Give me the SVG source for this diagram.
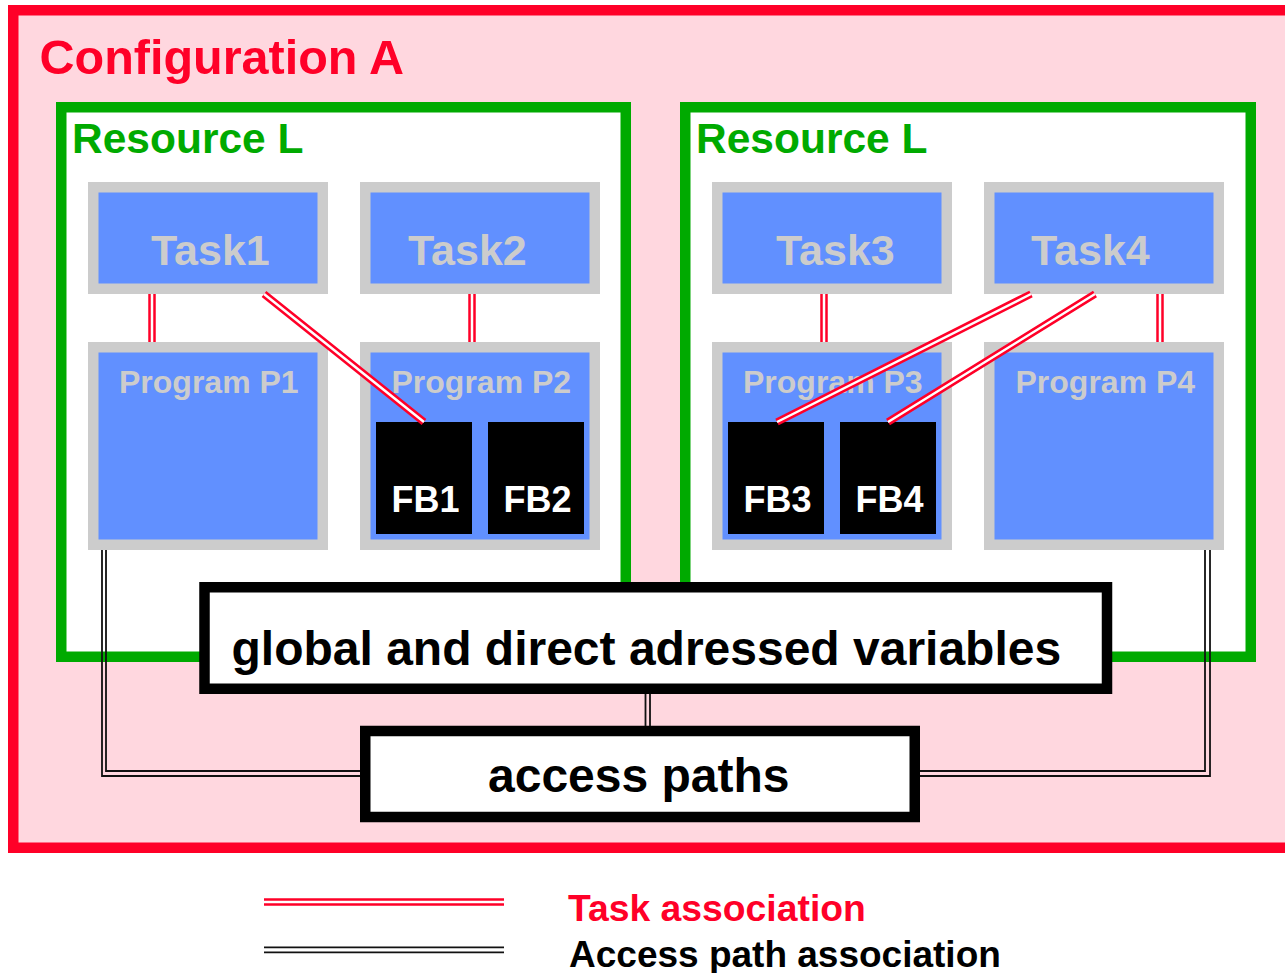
<svg xmlns="http://www.w3.org/2000/svg" width="1285" height="973" viewBox="0 0 1285 973">
  <style>
    text { font-family: "Liberation Sans", Arial, sans-serif; font-weight: bold; }
    .config { fill: #FFD7DF; stroke: #FF0028; stroke-width: 10.5; }
    .resource { fill: #FFFFFF; stroke: #00AA00; stroke-width: 10.5; }
    .unit { fill: #6190FF; stroke: #CCCCCC; stroke-width: 10.5; }
    .fb { fill: #000000; }
    .store { fill: #FFFFFF; stroke: #000000; stroke-width: 10.5; }
    .t-config { fill: #FF0028; font-size: 48.5px; }
    .t-res { fill: #00AA00; font-size: 42.5px; }
    .t-task { fill: #CCCCCC; font-size: 43px; }
    .t-prog { fill: #CCCCCC; font-size: 32px; }
    .t-fb { fill: #FFFFFF; font-size: 36px; }
    .t-store { fill: #000000; font-size: 48px; }
    .t-legend-task { fill: #FF0028; font-size: 37.3px; }
    .t-legend-access { fill: #000000; font-size: 37px; }
    .assoc-outer { fill: none; stroke: #FF0028; stroke-width: 7.5; }
    .assoc-inner { fill: none; stroke: #FFFFFF; stroke-width: 2.5; }
    .path-line { fill: none; stroke: #111111; stroke-width: 1.8; }
  </style>

  <!-- Configuration frame -->
  <g id="configuration-a">
    <rect class="config" x="13.25" y="10.25" width="1290" height="837.5"/>
    <text class="t-config" x="39.5" y="74">Configuration A</text>
  </g>

  <!-- Resources -->
  <g id="resource-left">
    <rect class="resource" x="61.25" y="107.25" width="564.5" height="549.5"/>
    <text class="t-res" x="72" y="153">Resource L</text>
  </g>
  <g id="resource-right">
    <rect class="resource" x="685.25" y="107.25" width="565.5" height="549.5"/>
    <text class="t-res" x="696" y="153">Resource L</text>
  </g>

  <!-- Tasks -->
  <g id="task1">
    <rect class="unit" x="93.25" y="187.25" width="229.5" height="101.5"/>
    <text class="t-task" x="151" y="265">Task1</text>
  </g>
  <g id="task2">
    <rect class="unit" x="365.25" y="187.25" width="229.5" height="101.5"/>
    <text class="t-task" x="408" y="265">Task2</text>
  </g>
  <g id="task3">
    <rect class="unit" x="717.25" y="187.25" width="229.5" height="101.5"/>
    <text class="t-task" x="776" y="265">Task3</text>
  </g>
  <g id="task4">
    <rect class="unit" x="989.25" y="187.25" width="229.5" height="101.5"/>
    <text class="t-task" x="1031" y="265">Task4</text>
  </g>

  <!-- Programs -->
  <g id="program-p1">
    <rect class="unit" x="93.25" y="347.25" width="229.5" height="197.5"/>
    <text class="t-prog" x="119" y="393">Program P1</text>
  </g>
  <g id="program-p2">
    <rect class="unit" x="365.25" y="347.25" width="229.5" height="197.5"/>
    <text class="t-prog" x="391.5" y="393">Program P2</text>
  </g>
  <g id="program-p3">
    <rect class="unit" x="717.25" y="347.25" width="229.5" height="197.5"/>
    <text class="t-prog" x="743" y="393">Program P3</text>
  </g>
  <g id="program-p4">
    <rect class="unit" x="989.25" y="347.25" width="229.5" height="197.5"/>
    <text class="t-prog" x="1015.5" y="393">Program P4</text>
  </g>

  <!-- Function blocks -->
  <g id="fb1">
    <rect class="fb" x="376" y="422" width="96" height="112"/>
    <text class="t-fb" x="391.5" y="512">FB1</text>
  </g>
  <g id="fb2">
    <rect class="fb" x="488" y="422" width="96" height="112"/>
    <text class="t-fb" x="503.5" y="512">FB2</text>
  </g>
  <g id="fb3">
    <rect class="fb" x="728" y="422" width="96" height="112"/>
    <text class="t-fb" x="743.5" y="512">FB3</text>
  </g>
  <g id="fb4">
    <rect class="fb" x="840" y="422" width="96" height="112"/>
    <text class="t-fb" x="855.5" y="512">FB4</text>
  </g>

  <!-- Shared data -->
  <g id="global-variables">
    <rect class="store" x="204.5" y="587.25" width="902.5" height="101.5"/>
    <text class="t-store" x="231.5" y="665">global and direct adressed variables</text>
  </g>
  <g id="access-paths">
    <rect class="store" x="365.25" y="731" width="549.5" height="86"/>
    <text class="t-store" x="488" y="792">access paths</text>
  </g>

  <!-- Connectors -->
  <g id="connectors">
    <!-- task associations: red double lines -->
    <g id="task-associations">
      <path class="assoc-outer" d="M152 294 V342 M472 294 V342 M824 294 V342 M1160 294 V342"/>
      <path class="assoc-inner" d="M152 294 V342 M472 294 V342 M824 294 V342 M1160 294 V342"/>
      <path class="assoc-outer" d="M264 294 L424 422 M1031 294 L777 422 M1095 294 L888 422"/>
      <path class="assoc-inner" d="M264 294 L424 422 M1031 294 L777 422 M1095 294 L888 422"/>
    </g>
    <!-- access path associations: black double lines -->
    <g id="access-associations">
      <path class="path-line" d="M102 550 V776 H360"/>
      <path class="path-line" d="M106 550 V771 H360"/>
      <path class="path-line" d="M1210 550 V776 H920"/>
      <path class="path-line" d="M1205 550 V771 H920"/>
      <path class="path-line" d="M645.5 694 V726 M650 694 V726"/>
    </g>
  </g>

  <!-- Legend -->
  <g id="legend">
    <path class="assoc-outer" d="M264 902 H504"/>
    <path class="assoc-inner" d="M264 902 H504"/>
    <path class="path-line" d="M264 947.3 H504 M264 952.3 H504"/>
    <text class="t-legend-task" x="568" y="920.5">Task association</text>
    <text class="t-legend-access" x="569" y="967">Access path association</text>
  </g>
</svg>
